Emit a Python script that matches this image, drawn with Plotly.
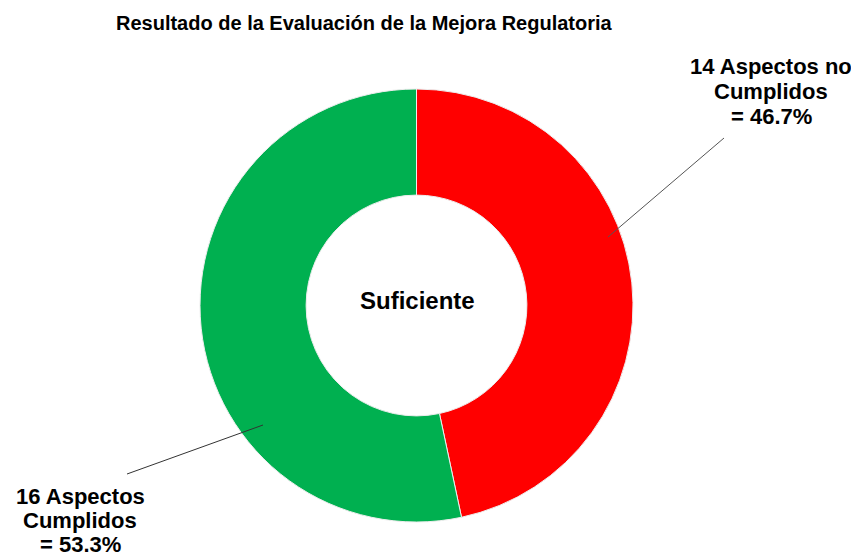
import plotly.graph_objects as go

categories = ["14 Aspectos no Cumplidos", "16 Aspectos Cumplidos"]
label_lines = [["14 Aspectos no", "Cumplidos", "= 46.7%"], ["16 Aspectos", "Cumplidos", "= 53.3%"]]
values = [14, 16]
colors = ["#FF0000", "#00B050"]
title = "Resultado de la Evaluación de la Mejora Regulatoria"
center_text = "Suficiente"

# page body has an 8px margin; size the figure so it fits the 859x559 window
OFF = 8
W, H = 859 - OFF, 559 - OFF
def px(x): return (x - OFF) / W
def py(y): return 1 - (y - OFF) / H

FONT = "Arial, Liberation Sans, sans-serif"

fig = go.Figure(go.Pie(
    labels=categories, values=values, hole=0.51, sort=False, direction="clockwise",
    rotation=0, marker=dict(colors=colors, line=dict(color="#EDEDED", width=1)),
    textinfo="none", hoverinfo="label+value", showlegend=False,
    domain=dict(x=[px(200), px(633)], y=[py(522), py(89)]),
))

def txt(t, x, y, size):
    fig.add_annotation(text="<b>" + t + "</b>", x=px(x), y=py(y), xref="paper", yref="paper",
                       showarrow=False, font=dict(family=FONT, size=size, color="#000"),
                       xanchor="center", yanchor="middle", borderpad=0)

txt(title, 364, 23, 20)
txt(center_text, 417, 300, 24)
for i, line in enumerate(label_lines[0]):
    txt(line, 771, 66 + 25 * i, 22)
for i, line in enumerate(label_lines[1]):
    txt(line, 80, 496 + 24 * i, 22)

fig.add_shape(type="line", xref="paper", yref="paper", x0=px(608), y0=py(237), x1=px(724), y1=py(138),
              line=dict(color="#555", width=1))
fig.add_shape(type="line", xref="paper", yref="paper", x0=px(263), y0=py(425), x1=px(127), y1=py(474),
              line=dict(color="#333", width=1))

fig.update_layout(width=W, height=H, margin=dict(l=0, r=0, t=0, b=0),
                  paper_bgcolor="white", plot_bgcolor="white")
fig.write_html("out.html")
